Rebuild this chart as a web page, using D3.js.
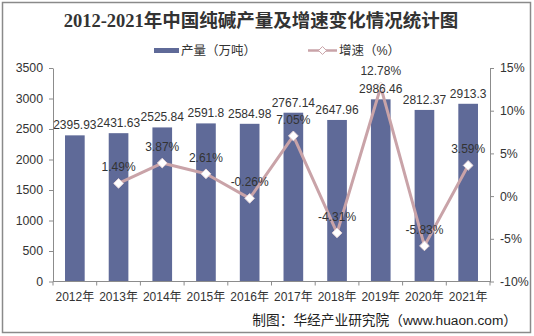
<!DOCTYPE html>
<html>
<head>
<meta charset="utf-8">
<script src="https://cdn.jsdelivr.net/npm/d3@7"></script>
<style>
  html, body { margin: 0; padding: 0; background: #fff; }
  svg { display: block; }
</style>
</head>
<body>
<svg id="chart" width="534" height="336"></svg>
<script>
// Soda ash output (10k tonnes) and year-on-year growth (%), 2012-2021
const years = ["2012年", "2013年", "2014年", "2015年", "2016年", "2017年", "2018年", "2019年", "2020年", "2021年"];
const output = [2395.93, 2431.63, 2525.84, 2591.8, 2584.98, 2767.14, 2647.96, 2986.46, 2812.37, 2913.3];
const growth = [null, 1.49, 3.87, 2.61, -0.26, 7.05, -4.31, 12.78, -5.83, 3.59];
const leftTicks = [0, 500, 1000, 1500, 2000, 2500, 3000, 3500];
const rightTicks = [-10, -5, 0, 5, 10, 15];

const svg = d3.select("#chart");
const W = 534, H = 336;
const m = { left: 53, right: 44, top: 68, bottom: 54.5 };
const x0 = m.left, x1 = W - m.right, yTop = m.top, yBot = H - m.bottom;

const latin = "'Liberation Sans', Arial, sans-serif";
const cjk = "'Liberation Sans', 'Noto Sans CJK SC', sans-serif";
const barColor = "#5f6a98";
const lineColor = "#c9a3a8";
const axisColor = "#8c8c8c";

// outer frame
svg.append("rect").attr("x", 2.5).attr("y", 2.5).attr("width", 528).attr("height", 330)
  .attr("fill", "#fff").attr("stroke", "#8a8a8a").attr("stroke-width", 1.5);

// title
svg.append("text").attr("x", 261).attr("y", 27).attr("text-anchor", "middle")
  .attr("font-family", "'Liberation Serif', 'Noto Sans CJK SC', serif")
  .attr("font-weight", "bold").attr("font-size", 18.5).attr("fill", "#333")
  .text("2012-2021年中国纯碱产量及增速变化情况统计图");

// scales
const x = d3.scaleBand().domain(years).range([x0, x1]).paddingInner(0).paddingOuter(0);
const yL = d3.scaleLinear().domain([0, 3500]).range([yBot, yTop]);
const yR = d3.scaleLinear().domain([-10, 15]).range([yBot, yTop]);
const barW = x.bandwidth() * 0.45;
const cx = d => x(d) + x.bandwidth() / 2;

// bars
svg.append("g").selectAll("rect").data(years).join("rect")
  .attr("x", (d, i) => cx(d) - barW / 2)
  .attr("y", (d, i) => yL(output[i]))
  .attr("width", barW)
  .attr("height", (d, i) => yBot - yL(output[i]))
  .attr("fill", barColor);

// axes
function styleAxis(g) {
  g.select(".domain").attr("stroke", axisColor);
  g.selectAll(".tick line").attr("stroke", axisColor);
  g.selectAll(".tick text").attr("fill", "#333").attr("font-family", latin).attr("font-size", 12.3);
}
svg.append("g").attr("transform", `translate(${x0},0)`)
  .call(d3.axisLeft(yL).tickValues(leftTicks).tickSize(4).tickSizeOuter(0).tickPadding(6).tickFormat(d3.format("d")))
  .call(styleAxis);
svg.append("g").attr("transform", `translate(${x1},0)`)
  .call(d3.axisRight(yR).tickValues(rightTicks).tickSize(4).tickSizeOuter(0).tickPadding(6).tickFormat(d => d + "%"))
  .call(styleAxis);

// category axis with ticks on band boundaries
const xAxis = svg.append("g").attr("transform", `translate(0,${yBot})`);
xAxis.append("line").attr("x1", x0).attr("x2", x1).attr("stroke", axisColor);
xAxis.selectAll("line.tk").data(d3.range(years.length + 1)).join("line").attr("class", "tk")
  .attr("x1", i => x0 + i * x.bandwidth()).attr("x2", i => x0 + i * x.bandwidth())
  .attr("y1", 0).attr("y2", 4).attr("stroke", axisColor);
xAxis.selectAll("text").data(years).join("text")
  .attr("x", d => cx(d)).attr("y", 19.5).attr("text-anchor", "middle")
  .attr("font-family", cjk).attr("font-size", 12).attr("fill", "#333")
  .text(d => d);

// growth line
const pts = years.map((d, i) => ({ year: d, v: growth[i] })).filter(p => p.v !== null);
svg.append("path").datum(pts)
  .attr("d", d3.line().x(p => cx(p.year)).y(p => yR(p.v)))
  .attr("fill", "none").attr("stroke", lineColor).attr("stroke-width", 3).attr("stroke-linejoin", "round");

// diamond markers
svg.append("g").selectAll("path").data(pts).join("path")
  .attr("transform", p => `translate(${cx(p.year)},${yR(p.v)})`)
  .attr("d", d3.symbol(d3.symbolDiamond2, 60)())
  .attr("fill", "#fff").attr("stroke", "#e8d6d8").attr("stroke-width", 1);

// bar value labels
svg.append("g").selectAll("text").data(years).join("text")
  .attr("x", d => cx(d)).attr("y", (d, i) => yL(output[i]) - 6)
  .attr("text-anchor", "middle").attr("font-family", latin).attr("font-size", 12).attr("fill", "#333")
  .text((d, i) => output[i]);

// growth value labels
svg.append("g").selectAll("text").data(pts).join("text")
  .attr("x", p => cx(p.year)).attr("y", p => yR(p.v) - 12)
  .attr("text-anchor", "middle").attr("font-family", latin).attr("font-size", 12).attr("fill", "#333")
  .text(p => p.v + "%");

// legend
const lg = svg.append("g").attr("font-family", cjk).attr("font-size", 12.5).attr("fill", "#333");
lg.append("rect").attr("x", 154).attr("y", 48).attr("width", 25).attr("height", 5).attr("fill", barColor);
lg.append("text").attr("x", 181).attr("y", 55).text("产量（万吨）");
lg.append("line").attr("x1", 308).attr("x2", 337).attr("y1", 50.5).attr("y2", 50.5)
  .attr("stroke", lineColor).attr("stroke-width", 2.5);
lg.append("path").attr("transform", "translate(322.5,50.5)").attr("d", d3.symbol(d3.symbolDiamond2, 40)())
  .attr("fill", "#fff").attr("stroke", lineColor).attr("stroke-width", 1);
lg.append("text").attr("x", 339).attr("y", 55).text("增速（%）");

// source note
svg.append("text").attr("x", 517).attr("y", 325).attr("text-anchor", "end")
  .attr("font-family", cjk).attr("font-size", 13.7).attr("fill", "#222")
  .text("制图：华经产业研究院（www.huaon.com）");
</script>
</body>
</html>
